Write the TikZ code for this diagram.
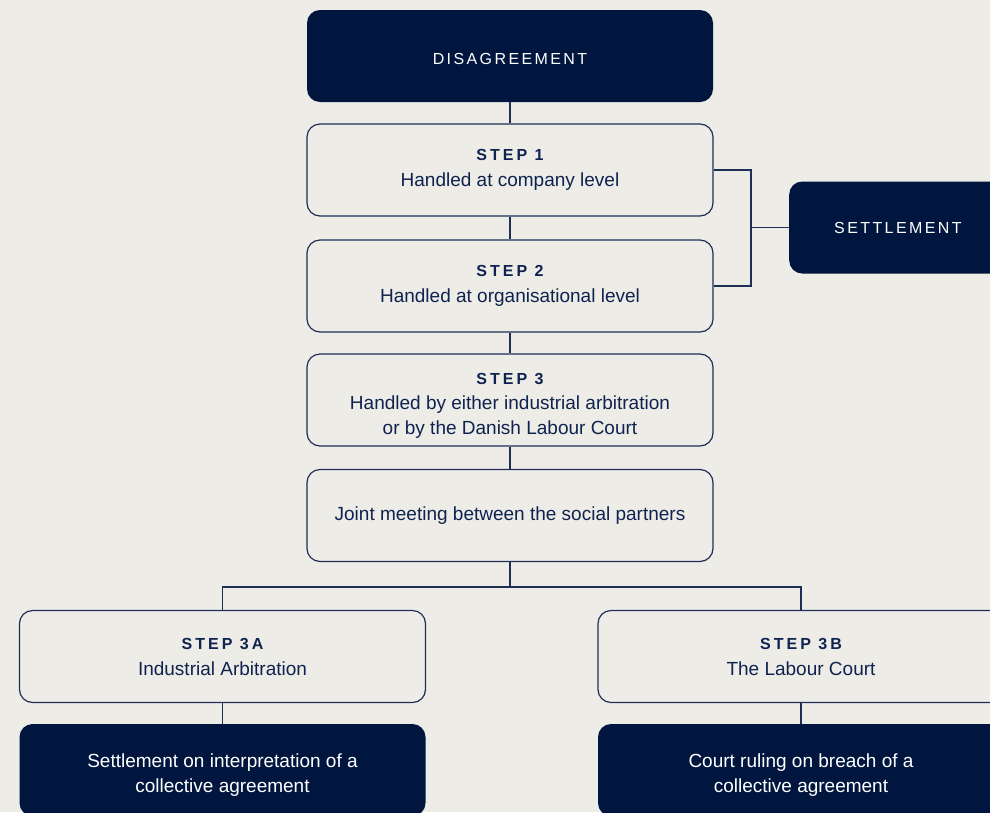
\documentclass[tikz,border=0pt]{standalone}
\usepackage{fontspec}
\setmainfont{Liberation Sans}
\newfontfamily\trackA[LetterSpace=15]{Liberation Sans}
\newfontfamily\trackB[LetterSpace=19]{Liberation Sans}
\definecolor{bgc}{HTML}{EDECE6}
\definecolor{navy}{HTML}{00163E}
\definecolor{lnc}{HTML}{1E2E56}
\definecolor{txc}{HTML}{0F2350}
\begin{document}
\begin{tikzpicture}[x=1pt,y=-1pt,
  box/.style={minimum width=406pt,minimum height=92pt,rounded corners=13pt,inner sep=0pt,align=center},
  lightbox/.style={box,draw=lnc,line width=1.2pt,text=txc,font=\fontsize{19}{26}\selectfont},
  darkbox/.style={box,fill=navy,text=white,font=\fontsize{19}{26}\selectfont},
  capsbox/.style={box,fill=navy,text=white,font=\fontsize{16}{20}\selectfont\trackA},
  conn/.style={draw=lnc,line width=1.2pt}]
\useasboundingbox (0,0) rectangle (990,812);
\fill[bgc] (0,0) rectangle (990,812);
\clip (0,0) rectangle (990,812);
\newcommand{\stp}[1]{{\fontsize{16}{20}\selectfont\trackB\bfseries #1}}
\node[capsbox] (dis) at (510,56) {\rule{0pt}{18pt}DISAGREEMENT};
\node[lightbox] (s1) at (510,170) {\stp{STEP 1}\\Handled at company level};
\node[lightbox] (s2) at (510,286) {\stp{STEP 2}\\Handled at organisational level};
\node[lightbox,font=\fontsize{19}{25}\selectfont] (s3) at (510,400) {\rule{0pt}{22pt}\stp{STEP 3}\\Handled by either industrial arbitration\\or by the Danish Labour Court};
\node[lightbox] (jm) at (510,515.5) {Joint meeting between the social partners};
\node[capsbox,anchor=west,text width=316pt,inner xsep=45pt,align=left] (set) at (789,227.5) {\rule{0pt}{13pt}SETTLEMENT};
\node[lightbox] (s3a) at (222.5,656.5) {\stp{STEP 3A}\\Industrial Arbitration};
\node[lightbox] (s3b) at (801,656.5) {\stp{STEP 3B}\\The Labour Court};
\node[darkbox,font=\fontsize{19}{25}\selectfont] (ra) at (222.5,770) {\rule{0pt}{24pt}Settlement on interpretation of a\\collective agreement};
\node[darkbox,font=\fontsize{19}{25}\selectfont] (rb) at (801,770) {\rule{0pt}{24pt}Court ruling on breach of a\\collective agreement};
\coordinate (br) at (751,227.5);
\coordinate (split) at (510,587);
\draw[conn] (dis.south) -- (s1.north);
\draw[conn] (s1.south) -- (s2.north);
\draw[conn] (s2.south) -- (s3.north);
\draw[conn] (s3.south) -- (jm.north);
\draw[conn] (s1.east) -| (br) |- (s2.east);
\draw[conn] (set.west) -- (br);
\draw[conn] (jm.south) -- (split);
\draw[conn] (split) -| (s3a.north);
\draw[conn] (split) -| (s3b.north);
\draw[conn] (s3a.south) -- (ra.north);
\draw[conn] (s3b.south) -- (rb.north);
\end{tikzpicture}
\end{document}
